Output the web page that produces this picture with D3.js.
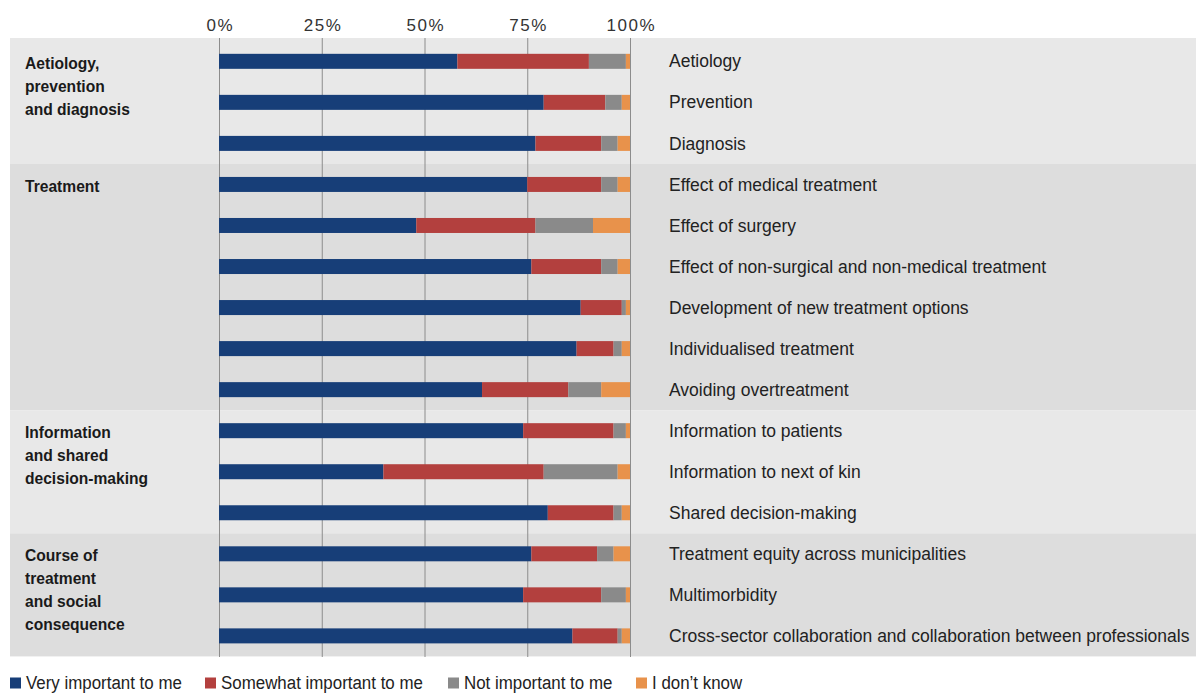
<!DOCTYPE html>
<html>
<head>
<meta charset="utf-8">
<script src="https://cdn.jsdelivr.net/npm/d3@7/dist/d3.min.js"></script>
<style>
  html, body { margin: 0; padding: 0; background: #ffffff; }
  svg { display: block; }
</style>
</head>
<body>
<svg id="chart" width="1196" height="693"></svg>
<script>
// ---------- DATA ----------
const categories = [
  "Aetiology",
  "Prevention",
  "Diagnosis",
  "Effect of medical treatment",
  "Effect of surgery",
  "Effect of non-surgical and non-medical treatment",
  "Development of new treatment options",
  "Individualised treatment",
  "Avoiding overtreatment",
  "Information to patients",
  "Information to next of kin",
  "Shared decision-making",
  "Treatment equity across municipalities",
  "Multimorbidity",
  "Cross-sector collaboration and collaboration between professionals"
];

const groupNames = [
  ["Aetiology,", "prevention", "and diagnosis"],
  ["Treatment"],
  ["Information", "and shared", "decision-making"],
  ["Course of", "treatment", "and social", "consequence"]
];
const groupSizes = [3, 6, 3, 3];

const seriesNames = ["Very important to me", "Somewhat important to me", "Not important to me", "I don\u2019t know"];
const veryImportant     = [58, 79, 77, 75, 48, 76, 88, 87, 64, 74, 40, 80, 76, 74, 86];
const somewhatImportant = [32, 15, 16, 18, 29, 17, 10,  9, 21, 22, 39, 16, 16, 19, 11];
const notImportant      = [ 9,  4,  4,  4, 14,  4,  1,  2,  8,  3, 18,  2,  4,  6,  1];
const dontKnow          = [ 1,  2,  3,  3,  9,  3,  1,  2,  7,  1,  3,  2,  4,  1,  2];

const tickValues = [0, 25, 50, 75, 100];
const tickLabels = ["0%", "25%", "50%", "75%", "100%"];

// ---------- STYLE ----------
const colors = ["#173e78", "#b3403e", "#8a8a8a", "#e8924b"];
const groupFill = ["#e8e8e8", "#dddddd", "#e8e8e8", "#dddddd"];
const W = 1196, H = 693;

const svg = d3.select("#chart");

const x = d3.scaleLinear().domain([0, 100]).range([219, 630]);
const y = d3.scaleBand().domain(categories).range([40.8, 656.4]).paddingInner(0).paddingOuter(0);
const barH = 15;

const stackData = categories.map((c, i) => ({
  cat: c, s0: veryImportant[i], s1: somewhatImportant[i], s2: notImportant[i], s3: dontKnow[i]
}));
const stacked = d3.stack().keys(["s0", "s1", "s2", "s3"])(stackData);

// Group backgrounds
let start = 0;
const groups = groupSizes.map((n, gi) => {
  const first = categories[start], last = categories[start + n - 1];
  const g = { gi, y0: y(first), y1: y(last) + y.bandwidth(), lines: groupNames[gi], firstCat: first };
  start += n;
  return g;
});
groups[0].y0 = 38;

svg.append("g").selectAll("rect").data(groups).join("rect")
  .attr("x", 10).attr("width", W - 10)
  .attr("y", d => d.y0).attr("height", d => d.y1 - d.y0)
  .attr("fill", d => groupFill[d.gi]);

// Grid lines
svg.append("g").selectAll("line").data(tickValues).join("line")
  .attr("x1", d => x(d) + 0.5).attr("x2", d => x(d) + 0.5)
  .attr("y1", 38).attr("y2", 657)
  .attr("stroke", "#8c8c8c").attr("stroke-width", 1);

// Top axis labels
const axis = d3.axisTop(x).tickValues(tickValues).tickFormat((d, i) => tickLabels[i]).tickSize(0).tickPadding(0);
const axG = svg.append("g").attr("transform", "translate(0,31)").call(axis);
axG.select(".domain").remove();
axG.selectAll("text")
  .attr("y", 0).attr("dy", 0)
  .attr("dx", "0.75px")
  .attr("font-family", "'Liberation Sans', Arial, sans-serif")
  .attr("font-size", 17)
  .attr("letter-spacing", "1.5px")
  .attr("fill", "#333333");

// Bars
svg.append("g").selectAll("g").data(stacked).join("g")
  .attr("fill", (d, i) => colors[i])
  .selectAll("rect").data(d => d).join("rect")
  .attr("x", d => x(d[0]))
  .attr("width", d => Math.max(0, x(d[1]) - x(d[0])))
  .attr("y", d => y(d.data.cat) + y.bandwidth() / 2 - barH / 2)
  .attr("height", barH);

// Right labels
svg.append("g").selectAll("text").data(categories).join("text")
  .attr("x", 669)
  .attr("y", d => y(d) + y.bandwidth() / 2)
  .attr("dy", "0.35em")
  .attr("font-family", "'Liberation Sans', Arial, sans-serif")
  .attr("font-size", 17.5)
  .attr("fill", "#222222")
  .text(d => d);

// Group labels
const gl = svg.append("g").selectAll("text").data(groups).join("text")
  .attr("font-family", "'Liberation Sans', Arial, sans-serif")
  .attr("font-size", 15.6)
  .attr("font-weight", "bold")
  .attr("fill", "#1a1a1a");
gl.selectAll("tspan").data(d => d.lines.map((t, k) => ({ t, k, yc: y(d.firstCat) + y.bandwidth() / 2 }))).join("tspan")
  .attr("x", 25)
  .attr("y", d => d.yc + 2 + d.k * 23)
  .attr("dy", "0.35em")
  .text(d => d.t);

// Legend (condensed look via horizontal scaling)
const legendX = [10, 205, 448, 636];
const lg = svg.append("g").selectAll("g").data(seriesNames).join("g")
  .attr("transform", (d, i) => `translate(${legendX[i]},677.5)`);
lg.append("rect").attr("width", 11).attr("height", 11).attr("fill", (d, i) => colors[i]);
lg.append("text")
  .attr("transform", "translate(16,11) scale(0.96,1)")
  .attr("font-family", "'Liberation Sans', Arial, sans-serif")
  .attr("font-size", 17.6)
  .attr("fill", "#222222")
  .text(d => d);
</script>
</body>
</html>
